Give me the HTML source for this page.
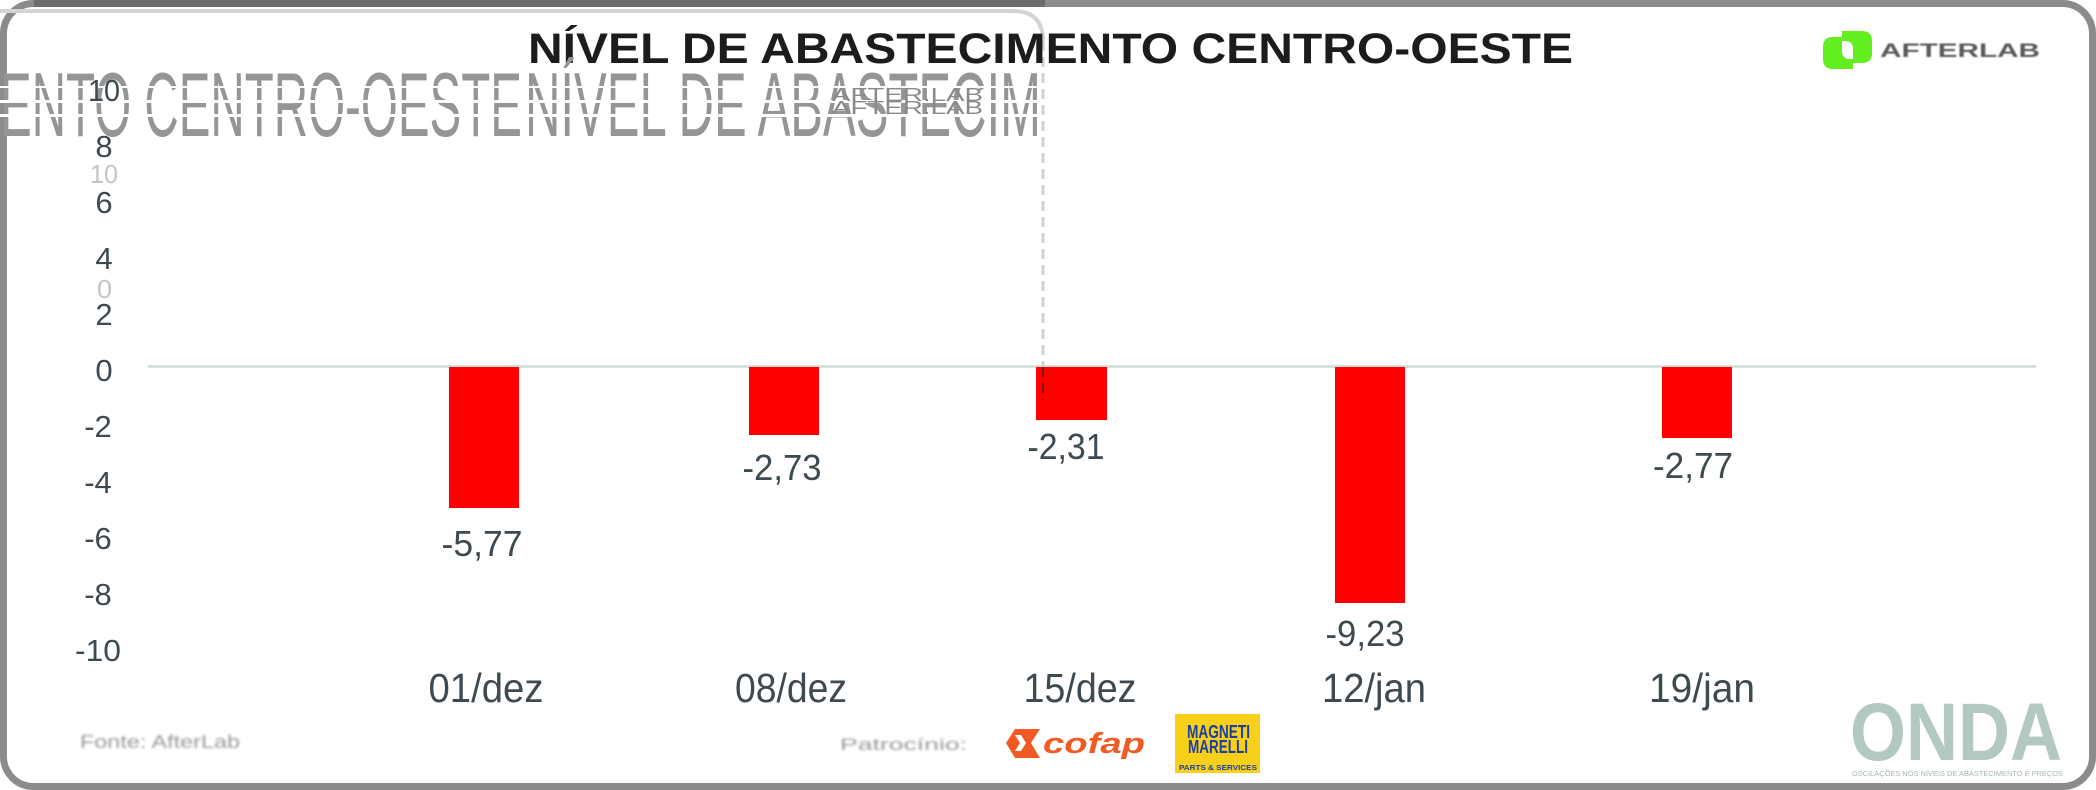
<!DOCTYPE html>
<html>
<head>
<meta charset="utf-8">
<style>
  html, body { margin: 0; padding: 0; background: #ffffff; }
  body { width: 2096px; height: 790px; overflow: hidden; }
  svg { display: block; font-family: "Liberation Sans", "DejaVu Sans", sans-serif; }
  .blur1 { filter: blur(0.8px); }
  .blur2 { filter: blur(1.4px); }
</style>
</head>
<body>
<svg width="2096" height="790" viewBox="0 0 2096 790" xmlns="http://www.w3.org/2000/svg">
  <rect x="0" y="0" width="2096" height="790" fill="#ffffff"/>

  <!-- outer frame -->
  <rect x="3.5" y="3.5" width="2089" height="783" rx="30" ry="30" fill="none" stroke="#8b8b8b" stroke-width="7"/>
  <line x1="34" y1="3.5" x2="1045" y2="3.5" stroke="#6c6c6c" stroke-width="7"/>

  <!-- inner selection box (light line + dashed right edge) -->
  <path d="M0,11 H1013 Q1043,11 1043,41" fill="none" stroke="#d4d4d4" stroke-width="4"/>
  <line x1="1043" y1="41" x2="1043" y2="400" stroke="#d0d0d0" stroke-width="3" stroke-dasharray="10 6"/>

  <!-- title -->
  <text x="528" y="63" font-size="43" font-weight="bold" fill="#1c1c1c" textLength="1045" lengthAdjust="spacingAndGlyphs">NÍVEL DE ABASTECIMENTO CENTRO-OESTE</text>

  <!-- ghost overlapping texts (stretched vertically) -->
  <g fill="#959595" font-size="52">
    <text transform="translate(0,136) scale(1,1.75)" x="0" y="0" textLength="522" lengthAdjust="spacingAndGlyphs">ENTO CENTRO-OESTE</text>
    <text transform="translate(525,136) scale(1,1.75)" x="0" y="0" textLength="516" lengthAdjust="spacingAndGlyphs">NÍVEL DE ABASTECIM</text>
  </g>
  <g fill="#ffffff">
    <rect x="0" y="86" width="1042" height="2"/>
    <rect x="0" y="100" width="1042" height="3"/>
    <rect x="0" y="114" width="1042" height="3"/>
  </g>
  <g font-size="18" fill="#8a8a8a">
    <text x="832" y="101" textLength="151" lengthAdjust="spacingAndGlyphs">AFTER.LAB</text>
    <text x="832" y="114" textLength="151" lengthAdjust="spacingAndGlyphs">AFTER.LAB</text>
  </g>

  <!-- faint rotated-axis ghost bits -->
  <g fill="#c4c4c4" font-size="26">
    <text x="90" y="183" textLength="28" lengthAdjust="spacingAndGlyphs">10</text>
    <text x="97" y="298" textLength="15" lengthAdjust="spacingAndGlyphs">0</text>
  </g>

  <!-- AfterLab logo top right -->
  <g>
    <path d="M1842,31 H1862 Q1872,31 1872,41 V53 Q1872,63 1862,63 H1853 V49 Q1853,41 1845,41 H1842 Z" fill="#63ee1f"/>
    <path d="M1853,69 H1833 Q1823,69 1823,59 V47 Q1823,37 1833,37 H1842 V51 Q1842,59 1850,59 H1853 Z" fill="#63ee1f"/>
    <text class="blur1" x="1880" y="57" font-size="19" font-weight="bold" fill="#5a5a5a" textLength="160" lengthAdjust="spacingAndGlyphs">AFTERLAB</text>
  </g>

  <!-- y-axis labels -->
  <g font-size="31" fill="#3e4a4f" text-anchor="middle">
    <text x="104" y="101" textLength="32" lengthAdjust="spacingAndGlyphs">10</text>
    <text x="104" y="157">8</text>
    <text x="104" y="213">6</text>
    <text x="104" y="269">4</text>
    <text x="104" y="325">2</text>
    <text x="104" y="381">0</text>
    <text x="98" y="437">-2</text>
    <text x="98" y="493">-4</text>
    <text x="98" y="549">-6</text>
    <text x="98" y="605">-8</text>
    <text x="98" y="661" textLength="46" lengthAdjust="spacingAndGlyphs">-10</text>
  </g>

  <!-- zero line -->
  <line x1="148" y1="366.5" x2="2036" y2="366.5" stroke="#cddbd6" stroke-width="2.5"/>

  <!-- bars -->
  <g fill="#ff0000">
    <rect x="449" y="367" width="70" height="141"/>
    <rect x="749" y="367" width="70" height="68"/>
    <rect x="1036" y="367" width="71" height="53"/>
    <rect x="1335" y="367" width="70" height="236"/>
    <rect x="1662" y="367" width="70" height="71"/>
  </g>
  <line x1="1043" y1="367" x2="1043" y2="400" stroke="#8a1010" stroke-width="2" stroke-dasharray="10 6"/>

  <!-- value labels -->
  <g font-size="36" fill="#3e4a4f" text-anchor="middle">
    <text x="482" y="556" textLength="81" lengthAdjust="spacingAndGlyphs">-5,77</text>
    <text x="782" y="480" textLength="79" lengthAdjust="spacingAndGlyphs">-2,73</text>
    <text x="1066" y="459" textLength="77" lengthAdjust="spacingAndGlyphs">-2,31</text>
    <text x="1365" y="646" textLength="79" lengthAdjust="spacingAndGlyphs">-9,23</text>
    <text x="1693" y="478" textLength="80" lengthAdjust="spacingAndGlyphs">-2,77</text>
  </g>

  <!-- x labels -->
  <g font-size="41" fill="#3e4a4f" text-anchor="middle">
    <text x="486" y="702" textLength="115" lengthAdjust="spacingAndGlyphs">01/dez</text>
    <text x="791" y="702" textLength="112" lengthAdjust="spacingAndGlyphs">08/dez</text>
    <text x="1080" y="702" textLength="113" lengthAdjust="spacingAndGlyphs">15/dez</text>
    <text x="1374" y="702" textLength="104" lengthAdjust="spacingAndGlyphs">12/jan</text>
    <text x="1702" y="702" textLength="106" lengthAdjust="spacingAndGlyphs">19/jan</text>
  </g>

  <!-- footer: source -->
  <text class="blur2" x="80" y="748" font-size="18" fill="#9a9a9a" textLength="160" lengthAdjust="spacingAndGlyphs">Fonte: AfterLab</text>
  <text class="blur2" x="840" y="750" font-size="17" fill="#9a9a9a" textLength="127" lengthAdjust="spacingAndGlyphs">Patrocínio:</text>

  <!-- cofap logo -->
  <g fill="#f15a22">
    <polygon points="1006,743 1015,729 1040,729 1031,743 1040,758 1015,758"/>
    <polygon points="1015,735 1021,735 1026,743 1021,751 1015,751 1020,743" fill="#ffffff"/>
    <text x="1043" y="753" font-size="29" font-weight="bold" font-style="italic" textLength="102" lengthAdjust="spacingAndGlyphs">cofap</text>
  </g>

  <!-- Magneti Marelli logo -->
  <g>
    <rect x="1175" y="714" width="85" height="59" fill="#f8d01a"/>
    <text x="1187" y="738" font-size="18" font-weight="bold" fill="#1b3fa0" textLength="63" lengthAdjust="spacingAndGlyphs">MAGNETI</text>
    <text x="1188" y="753" font-size="18" font-weight="bold" fill="#1b3fa0" textLength="60" lengthAdjust="spacingAndGlyphs">MARELLI</text>
    <text x="1179" y="770" font-size="7.5" font-weight="bold" fill="#1b3fa0" textLength="78" lengthAdjust="spacingAndGlyphs">PARTS &amp; SERVICES</text>
  </g>

  <!-- ONDA logo -->
  <g>
    <text x="1850" y="760" font-size="82" font-weight="bold" fill="#b4c8c2" textLength="212" lengthAdjust="spacingAndGlyphs">ONDA</text>
    <text x="1852" y="776" font-size="7.5" fill="#a9b7b3" textLength="211" lengthAdjust="spacingAndGlyphs">OSCILAÇÕES NOS NÍVEIS DE ABASTECIMENTO E PREÇOS</text>
  </g>
</svg>
</body>
</html>
